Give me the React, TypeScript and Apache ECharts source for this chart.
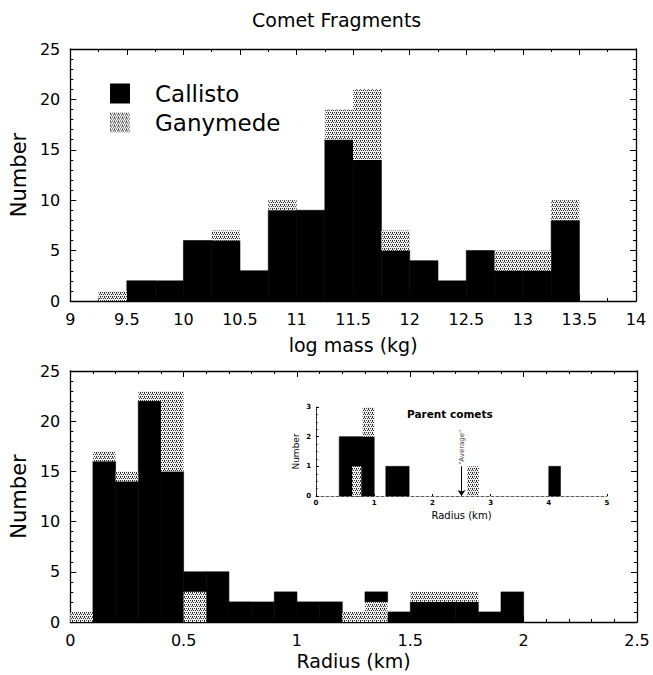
import React, { useEffect, useRef } from "react";
import * as echarts from "echarts";

// ---- Data: top panel (log mass histogram, bins of 0.25) ----
const massBinStart = [9.25, 9.5, 9.75, 10, 10.25, 10.5, 10.75, 11, 11.25, 11.5, 11.75, 12, 12.25, 12.5, 12.75, 13, 13.25];
const massBinWidth = 0.25;
const massCallisto = [0, 2, 2, 6, 6, 3, 9, 9, 16, 14, 5, 4, 2, 5, 3, 3, 8];
const massGanymede = [1, 0, 0, 0, 1, 0, 1, 0, 3, 7, 2, 0, 0, 0, 2, 2, 2];

// ---- Data: bottom panel (radius histogram, bins of 0.1) ----
const radiusBinStart = [0, 0.1, 0.2, 0.3, 0.4, 0.5, 0.6, 0.7, 0.8, 0.9, 1.0, 1.1, 1.2, 1.3, 1.4, 1.5, 1.6, 1.7, 1.8, 1.9];
const radiusBinWidth = 0.1;
const radiusCallisto = [0, 16, 14, 22, 15, 2, 5, 2, 2, 3, 2, 2, 0, 1, 1, 2, 2, 2, 1, 3];
const radiusGanymede = [1, 1, 1, 1, 8, 3, 0, 0, 0, 0, 0, 0, 1, 2, 0, 1, 1, 1, 0, 0];
// bins where the Ganymede part is drawn below the Callisto part
const radiusGanymedeBelow = [false, false, false, false, false, true, false, false, false, false, false, false, false, true, false, false, false, false, false, false];

// ---- Data: inset (parent comets) ----
const insetCallistoStart = [0.4, 1.2, 4.0];
const insetCallistoEnd = [1.0, 1.6, 4.2];
const insetCallistoCount = [2, 1, 1];
const insetGanymedeStart = [0.62, 0.8, 2.6];
const insetGanymedeEnd = [0.78, 1.0, 2.8];
const insetGanymedeBase = [0, 2, 0];
const insetGanymedeCount = [1, 1, 1];
const averageRadius = 2.5;

type Rect = [number, number, number, number];

function stackBins(starts: number[], width: number, cal: number[], gan: number[], below?: boolean[]) {
  const calRects: Rect[] = [];
  const ganRects: Rect[] = [];
  starts.forEach((s, i) => {
    const x0 = s, x1 = s + width;
    const b = below ? below[i] : false;
    if (b) {
      if (gan[i] > 0) ganRects.push([x0, x1, 0, gan[i]]);
      if (cal[i] > 0) calRects.push([x0, x1, gan[i], gan[i] + cal[i]]);
    } else {
      if (cal[i] > 0) calRects.push([x0, x1, 0, cal[i]]);
      if (gan[i] > 0) ganRects.push([x0, x1, cal[i], cal[i] + gan[i]]);
    }
  });
  return { calRects, ganRects };
}

export default function App() {
  const ref = useRef<HTMLDivElement>(null);
  useEffect(() => {
    if (!ref.current) return;
    const chart = echarts.init(ref.current, undefined, { renderer: "svg" });

    const cv = document.createElement("canvas");
    cv.width = 4;
    cv.height = 4;
    const ctx = cv.getContext("2d")!;
    ctx.fillStyle = "#eeeeee";
    ctx.fillRect(0, 0, 4, 4);
    ctx.fillStyle = "#333333";
    [[0, 0], [2, 0], [1, 2], [3, 2], [0, 1]].forEach(([x, y]) => ctx.fillRect(x, y, 1, 1));
    const ganFill: any = { image: cv, repeat: "repeat" };

    const mass = stackBins(massBinStart, massBinWidth, massCallisto, massGanymede);
    const radius = stackBins(radiusBinStart, radiusBinWidth, radiusCallisto, radiusGanymede, radiusGanymedeBelow);
    const insetCal: Rect[] = insetCallistoStart.map((s, i) => [s, insetCallistoEnd[i], 0, insetCallistoCount[i]]);
    const insetGan: Rect[] = insetGanymedeStart.map((s, i) => [s, insetGanymedeEnd[i], insetGanymedeBase[i], insetGanymedeBase[i] + insetGanymedeCount[i]]);

    const render = (fill: any, stroke: boolean) => (params: any, api: any) => {
      const p0 = api.coord([api.value(0), api.value(2)]);
      const p1 = api.coord([api.value(1), api.value(3)]);
      return {
        type: "rect",
        shape: { x: p0[0], y: p1[1], width: p1[0] - p0[0], height: p0[1] - p1[1] },
        style: stroke ? { fill, stroke: "#000", lineWidth: 0.6 } : { fill },
      };
    };

    const customSeries = (name: string, data: Rect[], axis: number, isGan: boolean) => ({
      type: "custom",
      name,
      xAxisIndex: axis,
      yAxisIndex: axis,
      itemStyle: { color: isGan ? ganFill : "#000" },
      encode: { x: [0, 1], y: [2, 3] },
      renderItem: render(isGan ? ganFill : "#000", !isGan),
      data,
      silent: true,
    });

    const black = "#000";
    const axisLine = { show: true, onZero: false, lineStyle: { color: black, width: 1.3 } };
    const tick = { show: true, inside: true, length: 6, lineStyle: { color: black, width: 1 } };
    const minor = (n: number) => ({ show: true, splitNumber: n, length: 3, lineStyle: { color: black, width: 1 } });
    const noSplit = { show: false };

    const mainX = (grid: number, min: number, max: number, split: number, name: string, gap: number) => [
      {
        type: "value", gridIndex: grid, min, max, interval: 0.5, position: "bottom",
        axisLine, axisTick: tick, minorTick: minor(split), splitLine: noSplit,
        axisLabel: { fontSize: 16, margin: 10, color: black },
        name, nameLocation: "middle", nameGap: gap,
        nameTextStyle: { fontSize: 19, color: black },
      },
      {
        type: "value", gridIndex: grid, min, max, interval: 0.5, position: "top",
        axisLine, axisTick: tick, minorTick: minor(split), splitLine: noSplit,
        axisLabel: { show: false },
      },
    ];
    const mainY = (grid: number) => [
      {
        type: "value", gridIndex: grid, min: 0, max: 25, interval: 5, position: "left",
        axisLine, axisTick: tick, minorTick: minor(5), splitLine: noSplit,
        axisLabel: { fontSize: 16, margin: 10, color: black, padding: [6, 0, 0, 0] },
        name: "Number", nameLocation: "middle", nameRotate: 90, nameGap: 37,
        nameTextStyle: { fontSize: 21, color: black },
      },
      {
        type: "value", gridIndex: grid, min: 0, max: 25, interval: 5, position: "right",
        axisLine, axisTick: tick, minorTick: minor(5), splitLine: noSplit,
        axisLabel: { show: false },
      },
    ];

    const option: any = {
      animation: false,
      backgroundColor: "#fff",
      textStyle: { fontFamily: "DejaVu Sans", color: black },
      title: [
        { text: "Comet Fragments", left: 247, top: 5, textStyle: { fontSize: 19, fontWeight: "normal", color: black, fontFamily: "DejaVu Sans" } },
        { text: "Parent comets", left: 402, top: 403, textStyle: { fontSize: 10.5, fontWeight: "bold", color: black, fontFamily: "DejaVu Sans" } },
      ],
      legend: {
        data: [{ name: "Callisto" }, { name: "Ganymede" }],
        orient: "vertical", left: 105, top: 77, itemWidth: 20, itemHeight: 20, itemGap: 6,
        selectedMode: false, icon: "rect",
        textStyle: { fontSize: 23, color: black, lineHeight: 20, padding: [0, 0, 0, 20] },
      },
      grid: [
        { left: 67, top: 49, width: 569, height: 252 },
        { left: 68, top: 371, width: 569, height: 251 },
        { left: 316, top: 407, width: 291, height: 89 },
      ],
      xAxis: [
        ...mainX(0, 9, 14, 2, "log mass (kg)", 34),
        ...mainX(1, 0, 2.5, 5, "Radius (km)", 29),
        {
          type: "value", gridIndex: 2, min: 0, max: 5, interval: 1, position: "bottom",
          axisLine: { show: true, onZero: false, lineStyle: { color: "#333", width: 0.8, type: [3, 2] } },
          axisTick: { show: true, inside: true, length: 2, lineStyle: { color: black } },
          splitLine: noSplit,
          axisLabel: { fontSize: 7, margin: 3, color: black, fontWeight: "bold" },
          name: "Radius (km)", nameLocation: "middle", nameGap: 14,
          nameTextStyle: { fontSize: 10, color: black },
        },
      ],
      yAxis: [
        ...mainY(0),
        ...mainY(1),
        {
          type: "value", gridIndex: 2, min: 0, max: 3, interval: 1, position: "left",
          axisLine: { show: true, onZero: false, lineStyle: { color: black, width: 0.8 } },
          axisTick: { show: true, inside: true, length: 3, lineStyle: { color: black } },
          minorTick: { show: true, splitNumber: 4, length: 1.5, lineStyle: { color: black } },
          splitLine: noSplit,
          axisLabel: { fontSize: 7, margin: 5, color: black, fontWeight: "bold" },
          name: "Number", nameLocation: "middle", nameRotate: 90, nameGap: 16,
          nameTextStyle: { fontSize: 9, color: black },
        },
      ],
      series: [
        customSeries("Callisto", mass.calRects, 0, false),
        customSeries("Ganymede", mass.ganRects, 0, true),
        customSeries("Callisto", radius.calRects, 2, false),
        customSeries("Ganymede", radius.ganRects, 2, true),
        customSeries("Callisto", insetCal, 4, false),
        customSeries("Ganymede", insetGan, 4, true),
        {
          type: "scatter",
          name: "Average",
          xAxisIndex: 4,
          yAxisIndex: 4,
          symbolSize: 0,
          silent: true,
          data: [[averageRadius, 1.05]],
          label: {
            show: true, formatter: '"Average"', position: "inside", rotate: 90,
            align: "left", verticalAlign: "middle", fontSize: 7, color: black,
          },
          markLine: {
            silent: true,
            symbol: ["none", "arrow"],
            symbolSize: 6,
            lineStyle: { color: black, width: 1, type: "solid" },
            label: { show: false },
            data: [[{ coord: [averageRadius, 1] }, { coord: [averageRadius, 0] }]],
          },
        },
      ],
    };
    chart.setOption(option);
    return () => chart.dispose();
  }, []);
  return <div ref={ref} style={{ position: "absolute", left: 0, top: 0, width: 653, height: 675 }} />;
}
